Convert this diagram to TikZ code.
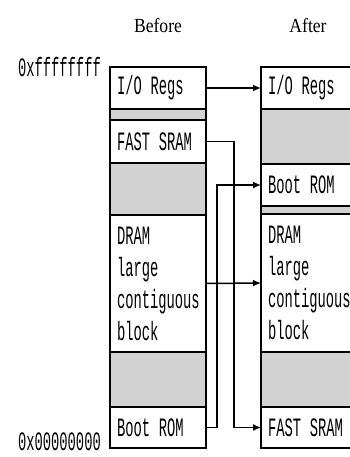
\documentclass[tikz,border=0pt]{standalone}
\usepackage{fontspec}
\setmainfont{Liberation Serif}
\newfontfamily\narrowmono[FakeStretch=0.52]{Liberation Mono}
\newfontfamily\titlefont[FakeStretch=0.88]{Liberation Serif}
\usetikzlibrary{positioning, arrows.meta}

\begin{document}
\begin{tikzpicture}[x=1pt, y=-1pt, node distance=0pt,
    seg/.style={draw, line width=1.6pt, outer sep=0pt, inner xsep=7pt, inner ysep=0pt,
      align=left, font=\narrowmono\fontsize{26.5}{32}\selectfont},
    segl/.style={seg, text width=82pt},
    segr/.style={seg, text width=86pt},
    hole/.style={fill=gray!35},
    addr/.style={font=\narrowmono\fontsize{26.5}{28}\selectfont, inner sep=0pt},
    title/.style={font=\titlefont\fontsize{20}{22}\selectfont, inner sep=0pt},
    link/.style={line width=1.5pt, -{Latex[length=8pt,width=7pt]}}]
    \useasboundingbox (0,0) rectangle (350,457);
    \clip (0,0) rectangle (350,457);

    % before
    \node[segl, minimum height=42pt, anchor=north west] (io1) at (110,67) {I/O Regs};
    \node[segl, hole, minimum height=11pt, below=of io1] (gap1) {};
    \node[segl, minimum height=43pt, below=of gap1] (sram1) {FAST SRAM};
    \node[segl, hole, minimum height=52pt, below=of sram1] (gap2) {};
    \node[segl, minimum height=137pt, below=of gap2] (dram1) {DRAM\\large\\contiguous\\block};
    \node[segl, hole, minimum height=55pt, below=of dram1] (gap3) {};
    \node[segl, minimum height=41pt, below=of gap3] (boot1) {Boot ROM};

    % after
    \node[segr, minimum height=42pt, anchor=north west] (io2) at (261,67) {I/O Regs};
    \node[segr, hole, minimum height=55pt, below=of io2] (gap4) {};
    \node[segr, minimum height=42pt, below=of gap4] (boot2) {Boot ROM};
    \node[segr, hole, minimum height=8pt, below=of boot2] (gap5) {};
    \node[segr, minimum height=138pt, below=of gap5] (dram2) {DRAM\\large\\contiguous\\block};
    \node[segr, hole, minimum height=55pt, below=of dram2] (gap6) {};
    \node[segr, minimum height=41pt, below=of gap6] (sram2) {FAST SRAM};

    \node[title, above=34pt of io1] (before) {Before};
    \node[title, above=34pt of io2, xshift=-3pt] (after) {After};
    \node[addr, left=9pt of io1.north west] (top) {0xffffffff};
    \node[addr, left=9pt of boot1.south west, yshift=6pt] (bottom) {0x00000000};

    \draw[link] (io1.east) -- (io2.west);
    \draw[link] (dram1.east) -- (dram2.west);
    \draw[link] (sram1.east) -- ++(28,0) |- (sram2.west);
    \draw[link] (boot1.east) -- ++(11,0) |- (boot2.west);
\end{tikzpicture}
\end{document}
